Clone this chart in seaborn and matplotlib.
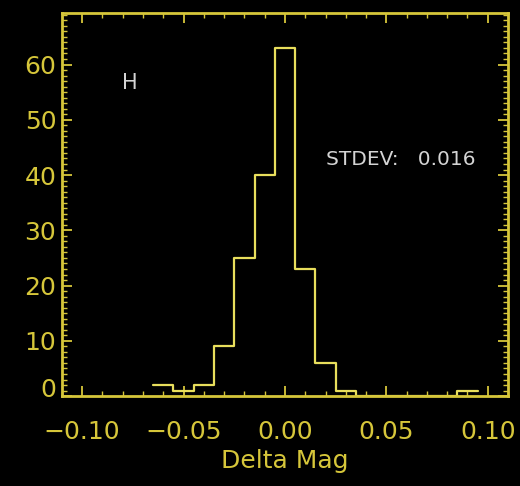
import numpy as np
import pandas as pd
import matplotlib
matplotlib.use("Agg")
import matplotlib.pyplot as plt
from matplotlib.ticker import MultipleLocator, FuncFormatter
from matplotlib.transforms import ScaledTranslation
import seaborn as sns

# Histogram of magnitude differences, 0.01 mag bins
bin_centers = [-0.06, -0.05, -0.04, -0.03, -0.02, -0.01, 0.00, 0.01, 0.02, 0.03,
               0.04, 0.05, 0.06, 0.07, 0.08, 0.09]
bin_counts = [2, 1, 2, 9, 25, 40, 63, 23, 6, 1,
              0, 0, 0, 0, 0, 1]
band_label = "H"
stdev_value = 0.016
x_ticks = [-0.10, -0.05, 0.00, 0.05, 0.10]
y_ticks = [0, 10, 20, 30, 40, 50, 60]

axis_yellow = "#d6c63a"
line_yellow = "#e8de5c"
text_grey = "#d4d4d4"

sns.set_theme(style="dark")
plt.rcParams["font.family"] = ["DejaVu Sans"]

df = pd.DataFrame({"delta_mag": bin_centers, "count": bin_counts})
edges = [round(c - 0.005, 4) for c in bin_centers] + [round(bin_centers[-1] + 0.005, 4)]

fig = plt.figure(figsize=(5.2, 4.86), dpi=100, facecolor="black")
ax = fig.add_axes([0.119, 0.185, 0.858, 0.788])
ax.set_facecolor("black")

sns.histplot(data=df, x="delta_mag", weights="count", bins=edges,
             element="step", fill=False, color=line_yellow, linewidth=1.6, ax=ax)

ax.set_xlim(-0.11, 0.11)
ax.set_ylim(0, 1.1 * max(bin_counts))
ax.grid(False)

ax.set_xticks(x_ticks)
ax.set_yticks(y_ticks)
ax.xaxis.set_major_formatter(FuncFormatter(lambda v, p: f"{v:.2f}".replace("-", "\u2212")))
ax.xaxis.set_minor_locator(MultipleLocator(0.01))
ax.yaxis.set_minor_locator(MultipleLocator(1))

for side in ax.spines.values():
    side.set_color(axis_yellow)
    side.set_linewidth(2.0)
    side.set_visible(True)

ax.tick_params(which="both", direction="in", colors=axis_yellow,
               top=True, right=True, bottom=True, left=True)
ax.tick_params(which="major", length=7, width=1.3, labelsize=18,
               labelcolor=axis_yellow)
ax.tick_params(which="minor", length=3.5, width=1.0)
ax.tick_params(axis="x", which="major", pad=17)
ax.tick_params(axis="y", which="major", pad=4)

ax.set_xlabel("Delta Mag", color=axis_yellow, fontsize=18, labelpad=4)
ax.set_ylabel("")

ax.text(-0.0765, 56.7, band_label, color=text_grey, fontsize=15,
        ha="center", va="center")
ax.text(0.020, 42.8, f"STDEV:   {stdev_value:.3f}", color=text_grey,
        fontsize=14.5, ha="left", va="center")

# lift the zero label a little above the baseline
zero_label = ax.get_yticklabels()[0]
zero_label.set_transform(zero_label.get_transform()
                         + ScaledTranslation(0, 9 / 100, fig.dpi_scale_trans))

fig.savefig("out.png", dpi=100, facecolor="black")
